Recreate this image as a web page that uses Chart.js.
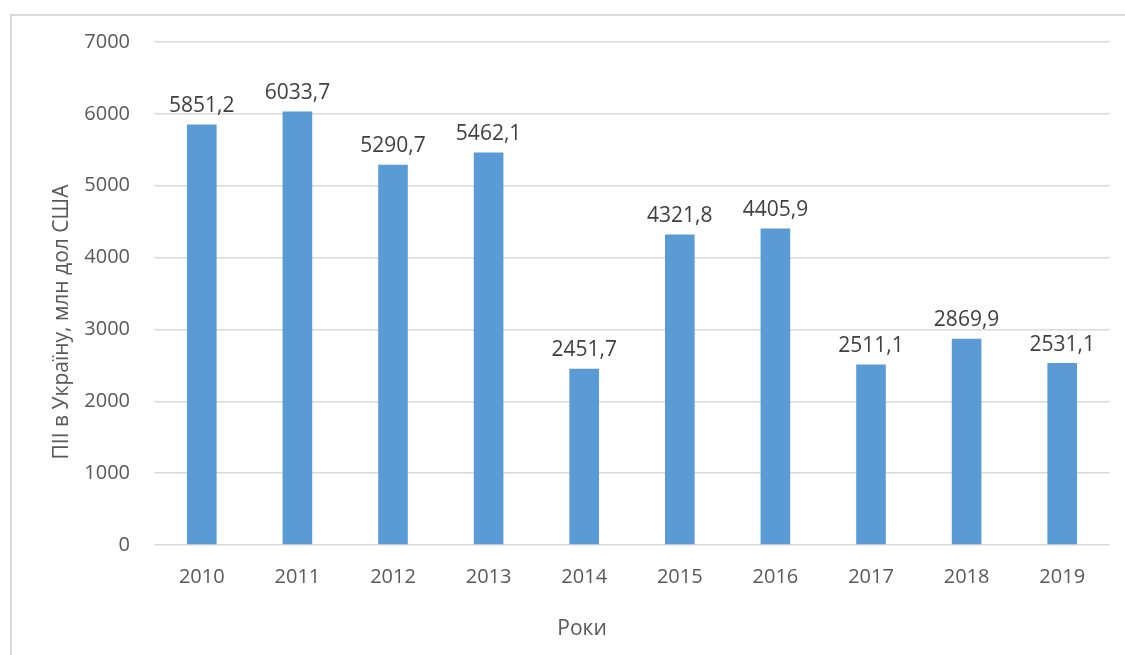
<!DOCTYPE html>
<html lang="uk">
  <head>
    <meta charset="UTF-8" />
    <title>ПІІ в Україну</title>
    <style>
      html, body { margin: 0; padding: 0; background: #fff; overflow: hidden; }
      #frame {
        position: absolute; left: 10px; top: 14px; width: 1140px; height: 680px;
        border: 2px solid #d9d9d9; box-sizing: border-box;
      }
      #wrap { position: absolute; left: 0; top: 0; width: 1125px; height: 655px; }
    </style>
  </head>
  <body>
    <div id="frame"></div>
    <div id="wrap"><canvas id="myChart"></canvas></div>
    <script src="https://cdn.jsdelivr.net/npm/chart.js"></script>
    <script>
      var years = ["2010", "2011", "2012", "2013", "2014", "2015", "2016", "2017", "2018", "2019"];
      var fdi = [5851.2, 6033.7, 5290.7, 5462.1, 2451.7, 4321.8, 4405.9, 2511.1, 2869.9, 2531.1];
      var yTicks = [0, 1000, 2000, 3000, 4000, 5000, 6000, 7000];
      var xTitle = "Роки";
      var yTitle = "ПІІ в Україну, млн дол США";

      var FONT = "'Open Sans', sans-serif";

      // подписи значений над столбцами + заголовки осей
      const valueLabels = {
        id: "valueLabels",
        afterDatasetsDraw(chart) {
          const ctx = chart.ctx;
          const meta = chart.getDatasetMeta(0);
          ctx.save();
          ctx.font = "21px " + FONT;
          ctx.fillStyle = "#404040";
          ctx.textAlign = "center";
          ctx.textBaseline = "bottom";
          meta.data.forEach((bar, i) => {
            ctx.fillText(fdi[i].toFixed(1).replace(".", ","), bar.x, bar.y - 8);
          });

          ctx.fillStyle = "#595959";
          ctx.font = "21px " + FONT;
          ctx.textBaseline = "middle";
          ctx.fillText(xTitle, 582, 629);

          ctx.translate(62, 322);
          ctx.rotate(-Math.PI / 2);
          ctx.fillText(yTitle, 0, 0);
          ctx.restore();
        },
      };

      const config = {
        type: "bar",
        data: {
          labels: years,
          datasets: [
            {
              data: fdi,
              backgroundColor: "#5B9BD5",
              categoryPercentage: 0.31,
              barPercentage: 1,
            },
          ],
        },
        options: {
          responsive: false,
          animation: false,
          layout: { padding: { top: 42, right: 15, left: 0, bottom: 0 } },
          plugins: { legend: { display: false }, tooltip: { enabled: false } },
          scales: {
            x: {
              grid: { display: false, drawTicks: false },
              border: { display: false },
              ticks: { color: "#595959", font: { family: FONT, size: 20 }, padding: 20 },
              afterFit: (s) => { s.height = 110; },
            },
            y: {
              min: 0,
              max: 7000,
              afterBuildTicks: (s) => { s.ticks = yTicks.map((v) => ({ value: v })); },
              grid: { color: "#d9d9d9", lineWidth: 1.5, drawTicks: false },
              border: { display: false },
              ticks: {
                color: "#595959",
                font: { family: FONT, size: 20 },
                padding: 24,
                callback: (v) => String(v),
              },
              afterFit: (s) => { s.width = 154; },
            },
          },
        },
        plugins: [valueLabels],
      };

      const cv = document.getElementById("myChart");
      cv.width = 1125;
      cv.height = 655;
      var myChart = new Chart(cv, config);
    </script>
  </body>
</html>
